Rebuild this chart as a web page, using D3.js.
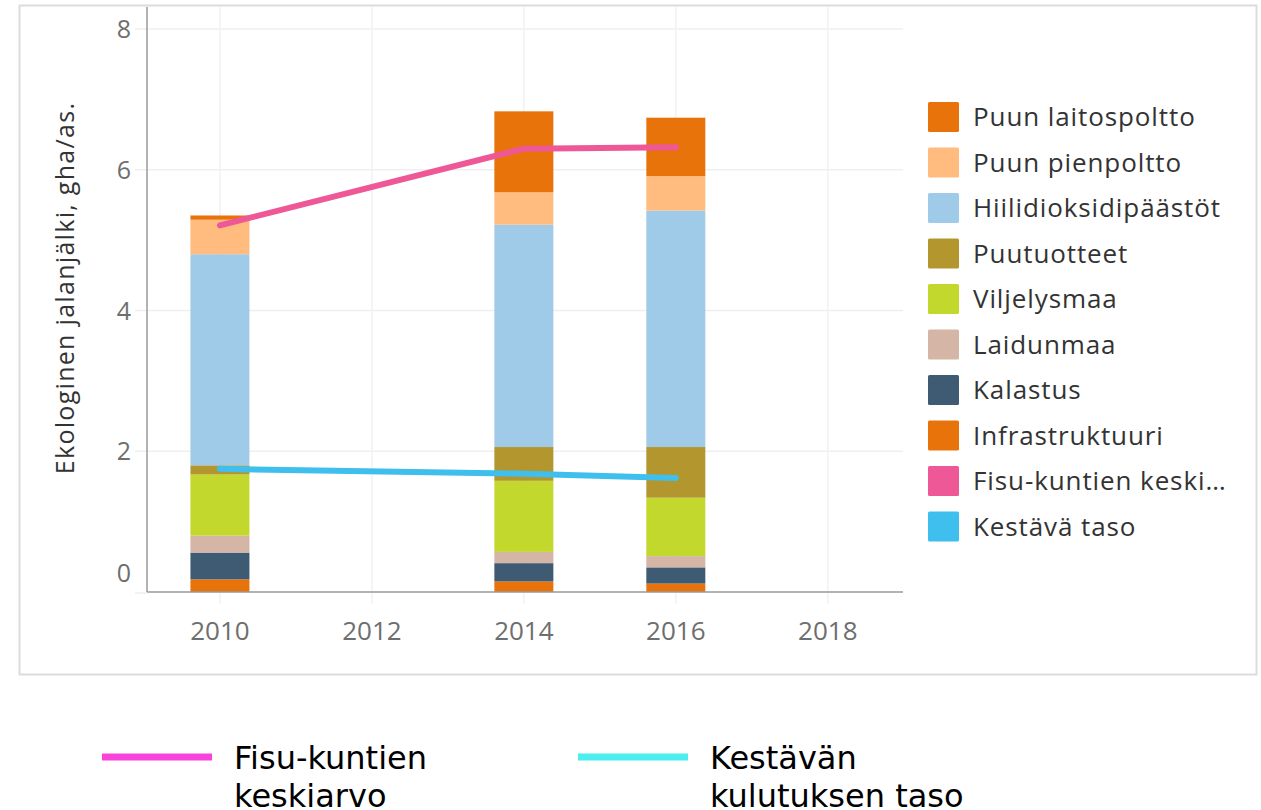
<!DOCTYPE html>
<html>
<head>
<meta charset="utf-8">
<script src="https://cdn.jsdelivr.net/npm/d3@7"></script>
<style>
    body { margin: 0; background: #fff; }
    svg { display: block; }
</style>
</head>
<body>
<div id="chart"></div>
<script>

// chart data
var years = [2010, 2014, 2016];
var categories = ["Infrastruktuuri", "Kalastus", "Laidunmaa", "Viljelysmaa",
    "Puutuotteet", "Hiilidioksidipäästöt", "Puun pienpoltto", "Puun laitospoltto"];
var infra      = [0.18, 0.15, 0.12];
var kalastus   = [0.38, 0.26, 0.23];
var laidunmaa  = [0.24, 0.16, 0.16];
var viljely    = [0.87, 1.01, 0.83];
var puutuot    = [0.13, 0.48, 0.72];
var hiili      = [3.00, 3.16, 3.36];
var pienpoltto = [0.49, 0.46, 0.49];
var laitos     = [0.06, 1.15, 0.83];
var fisuAvg    = [5.21, 6.30, 6.32];
var kestava    = [1.75, 1.68, 1.62];

var xTicks = [2010, 2012, 2014, 2016, 2018];
var yTicks = [0, 2, 4, 6, 8];

var legendLabels = ["Puun laitospoltto", "Puun pienpoltto", "Hiilidioksidipäästöt",
    "Puutuotteet", "Viljelysmaa", "Laidunmaa", "Kalastus", "Infrastruktuuri",
    "Fisu-kuntien keski…", "Kestävä taso"];

var colorMap = {
    "Infrastruktuuri": "#e8730a",
    "Kalastus": "#3f5b73",
    "Laidunmaa": "#d4b5a6",
    "Viljelysmaa": "#c3d82d",
    "Puutuotteet": "#b3962e",
    "Hiilidioksidipäästöt": "#a0cbe8",
    "Puun pienpoltto": "#ffbc7e",
    "Puun laitospoltto": "#e8730a",
    "Fisu-kuntien keski…": "#ee5897",
    "Kestävä taso": "#3ebfed"
};

var seriesValues = [infra, kalastus, laidunmaa, viljely, puutuot, hiili, pienpoltto, laitos];

var rows = years.map(function(y, i) {
    var r = { year: y };
    categories.forEach(function(c, j) { r[c] = seriesValues[j][i]; });
    return r;
});

var width = 1261, height = 810;

var svg = d3.select("#chart").append("svg")
    .attr("width", width)
    .attr("height", height);

// outer frame
svg.append("rect")
    .attr("x", 19.5).attr("y", 5.5)
    .attr("width", 1237).attr("height", 669)
    .attr("fill", "none")
    .attr("stroke", "#dcdcdc")
    .attr("stroke-width", 2);

var plot = { left: 147, right: 903, top: 7, bottom: 592 };

var x = d3.scaleLinear()
    .domain([2009.04, 2018.99])
    .range([plot.left, plot.right]);

var y = d3.scaleLinear()
    .domain([0, 8])
    .range([plot.bottom, 29]);

var g = svg.append("g");

// horizontal grid lines (extend a bit left of the axis)
g.selectAll("line.hgrid")
    .data(yTicks.filter(function(d) { return d > 0; }))
    .enter().append("line")
    .attr("class", "hgrid")
    .attr("x1", plot.left - 12).attr("x2", plot.right)
    .attr("y1", function(d) { return y(d); })
    .attr("y2", function(d) { return y(d); })
    .attr("stroke", "#efefef")
    .attr("stroke-width", 1.5);

g.append("line")
    .attr("x1", plot.left - 12).attr("x2", plot.left)
    .attr("y1", y(0) + 1).attr("y2", y(0) + 1)
    .attr("stroke", "#efefef").attr("stroke-width", 1.5);

// vertical grid lines (extend a bit below the axis)
g.selectAll("line.vgrid")
    .data(xTicks)
    .enter().append("line")
    .attr("class", "vgrid")
    .attr("x1", function(d) { return x(d); })
    .attr("x2", function(d) { return x(d); })
    .attr("y1", plot.top).attr("y2", plot.bottom + 12)
    .attr("stroke", "#f2f2f2")
    .attr("stroke-width", 1.5);

// stacked bars
var stack = d3.stack().keys(categories);
var stacked = stack(rows);
var barW = 59;

g.selectAll("g.layer")
    .data(stacked)
    .enter().append("g")
    .attr("class", "layer")
    .attr("fill", function(d) { return colorMap[d.key]; })
    .selectAll("rect")
    .data(function(d) { return d; })
    .enter().append("rect")
    .attr("x", function(d) { return x(d.data.year) - barW / 2; })
    .attr("y", function(d) { return y(d[1]); })
    .attr("width", barW)
    .attr("height", function(d) { return y(d[0]) - y(d[1]); });

// lines
var line = d3.line()
    .x(function(d) { return x(d.year); })
    .y(function(d) { return y(d.v); });

g.append("path")
    .datum(years.map(function(yr, i) { return { year: yr, v: fisuAvg[i] }; }))
    .attr("d", line)
    .attr("fill", "none")
    .attr("stroke", colorMap["Fisu-kuntien keski…"])
    .attr("stroke-width", 6)
    .attr("stroke-linecap", "round")
    .attr("stroke-linejoin", "round");

g.append("path")
    .datum(years.map(function(yr, i) { return { year: yr, v: kestava[i] }; }))
    .attr("d", line)
    .attr("fill", "none")
    .attr("stroke", colorMap["Kestävä taso"])
    .attr("stroke-width", 6)
    .attr("stroke-linecap", "round")
    .attr("stroke-linejoin", "round");

// axes lines
g.append("line")
    .attr("x1", plot.left).attr("x2", plot.left)
    .attr("y1", plot.top).attr("y2", plot.bottom)
    .attr("stroke", "#9a9a9a").attr("stroke-width", 1.5);
g.append("line")
    .attr("x1", plot.left).attr("x2", plot.right)
    .attr("y1", plot.bottom).attr("y2", plot.bottom)
    .attr("stroke", "#9a9a9a").attr("stroke-width", 1.5);

// tick labels
g.selectAll("text.ytick")
    .data(yTicks)
    .enter().append("text")
    .attr("class", "ytick")
    .attr("x", 131)
    .attr("y", function(d) { return d === 0 ? 582 : y(d) + 9; })
    .attr("text-anchor", "end")
    .style("font-family", "'Open Sans', sans-serif")
    .style("font-size", "25px")
    .attr("fill", "#6e6e6e")
    .text(function(d) { return d; });

g.selectAll("text.xtick")
    .data(xTicks)
    .enter().append("text")
    .attr("class", "xtick")
    .attr("x", function(d) { return x(d); })
    .attr("y", 640)
    .attr("text-anchor", "middle")
    .style("font-family", "'Open Sans', sans-serif")
    .style("font-size", "26px")
    .attr("fill", "#6e6e6e")
    .text(function(d) { return d; });

// y axis title
svg.append("text")
    .attr("transform", "translate(74,288) rotate(-90)")
    .attr("text-anchor", "middle")
    .style("font-family", "'Open Sans', sans-serif")
    .style("font-size", "25px")
    .style("letter-spacing", "1.3px")
    .attr("fill", "#333")
    .text("Ekologinen jalanjälki, gha/as.");

// right legend
var legend = svg.append("g");
var items = legend.selectAll("g.item")
    .data(legendLabels)
    .enter().append("g")
    .attr("class", "item")
    .attr("transform", function(d, i) { return "translate(928," + (117 + i * 45.5) + ")"; });

items.append("rect")
    .attr("x", 0).attr("y", -15)
    .attr("width", 31).attr("height", 30)
    .attr("rx", 1.5)
    .attr("fill", function(d) { return colorMap[d]; });

items.append("text")
    .attr("x", 45).attr("y", 9)
    .style("font-family", "'Open Sans', sans-serif")
    .style("font-size", "26px")
    .style("letter-spacing", "0.9px")
    .attr("fill", "#333")
    .text(function(d) { return d; });

// bottom legend
var bottomLegend = [
    { x: 102, color: "#f842d9", lines: ["Fisu-kuntien", "keskiarvo"] },
    { x: 578, color: "#4aeeee", lines: ["Kestävän", "kulutuksen taso"] }
];

var bl = svg.selectAll("g.bl")
    .data(bottomLegend)
    .enter().append("g")
    .attr("class", "bl")
    .attr("transform", function(d) { return "translate(" + d.x + ",0)"; });

bl.append("line")
    .attr("x1", 0).attr("x2", 110)
    .attr("y1", 757).attr("y2", 757)
    .attr("stroke", function(d) { return d.color; })
    .attr("stroke-width", 7);

bl.append("text")
    .style("font-family", "'DejaVu Sans', Verdana, sans-serif")
    .style("font-size", "32px")
    .attr("fill", "#000")
    .selectAll("tspan")
    .data(function(d) { return d.lines; })
    .enter().append("tspan")
    .attr("x", 132)
    .attr("y", function(d, i) { return 769 + i * 38; })
    .text(function(d) { return d; });

</script>
</body>
</html>
